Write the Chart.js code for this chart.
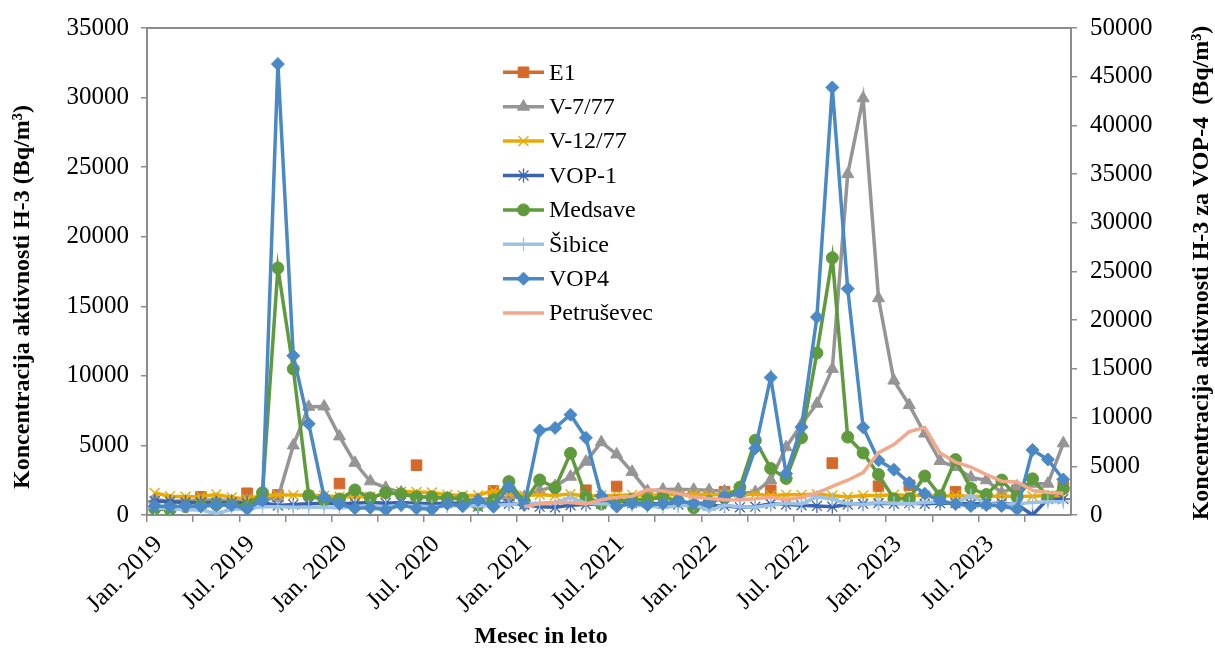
<!DOCTYPE html>
<html>
<head>
<meta charset="utf-8">
<script src="https://cdn.jsdelivr.net/npm/chart.js"></script>
<style>
  body { margin: 0; background: #fff; }
  canvas { display: block; }
</style>
</head>
<body>
<canvas id="h3_chart" width="1215" height="650"></canvas>
<script>
// months Jan. 2019 .. Dec. 2023
monthNames = ['Jan.', 'Feb.', 'Mar.', 'Apr.', 'Maj', 'Jun.', 'Jul.', 'Avg.', 'Sep.', 'Okt.', 'Nov.', 'Dec.']
years = [2019, 2020, 2021, 2022, 2023]
labels = years.flatMap(y => monthNames.map(m => m + ' ' + y))

leftTicks = [0, 5000, 10000, 15000, 20000, 25000, 30000, 35000]
rightTicks = [0, 5000, 10000, 15000, 20000, 25000, 30000, 35000, 40000, 45000, 50000]

e1 = [null, null, null, 1310, null, null, 1560, null, 1440, null, null, null,
      2260, null, null, null, null, 3580, null, null, null, null, 1730, null,
      null, null, null, null, 1780, null, 2050, null, null, null, null, null,
      null, 1660, null, null, 1780, null, null, null, 3730, null, null, 2070,
      null, 2140, null, null, 1660, null, null, null, 1780, null, null, 2020]

v777 = [1100, 1000, 1000, 1050, 1100, 1000, 1050, 1150, 1200, 5000, 7780, 7800,
        5650, 3750, 2420, 1950, 1620, 1350, 1250, 1200, 1150, 1100, 1200, 1250,
        1300, 1750, 2080, 2750, 3830, 5230, 4350, 3100, 1720, 1830, 1850, 1820,
        1780, 1700, 1550, 1650, 2520, 4870, 6520, 8000, 10500, 24500, 29950, 15580,
        9660, 7900, 5850, 3880, 3450, 2700, 2500, 1600, 2050, 2250, 2250, 5150]

v1277 = [1580, 1350, 1310, 1330, 1470, 1260, 1150, 1420, 1430, 1430, 1420, 1380,
         1310, 1320, 1300, 1500, 1680, 1650, 1620, 1450, 1400, 1420, 1750, 1500,
         1400, 1450, 1400, 1500, 1350, 1400, 1400, 1450, 1400, 1450, 1450, 1500,
         1450, 1450, 1450, 1500, 1400, 1450, 1450, 1500, 1400, 1300, 1400, 1400,
         1450, 1400, 1400, 1350, 1400, 1350, 1350, 1350, 1350, 1350, 1400, 1400]

vop1 = [1000, 950, 900, 900, 880, 900, 850, 880, 680, 750, 800, 850,
        800, 850, 900, 850, 900, 850, 800, 850, 850, 600, 850, 800,
        750, 600, 550, 700, 750, 800, 800, 850, 850, 800, 750, 700,
        700, 650, 550, 600, 800, 750, 700, 650, 600, 750, 800, 850,
        800, 850, 800, 850, 850, 800, 800, 850, 750, 0, 1150, 1150]

medsave = [450, 380, 600, 650, 740, 720, 620, 1600, 17750, 10500, 1400, 1080,
           1150, 1800, 1230, 1600, 1510, 1300, 1300, 1220, 1200, 720, 1050, 2400,
           950, 2520, 1950, 4430, 1320, 800, 1000, 1120, 1120, 1300, 1000, 520,
           950, 1250, 2000, 5370, 3350, 2630, 5550, 11640, 18480, 5600, 4460, 2910,
           1160, 1170, 2800, 1380, 3980, 1910, 1470, 2510, 1300, 2600, 1300, 1900]

sibice = [500, 450, 400, 350, 120, 400, 450, 600, 600, 550, 550, 550,
          500, 600, 650, 600, 700, 650, 600, 650, 700, 650, 700, 750,
          800, 850, 900, 1250, 850, 800, 750, 700, 650, 550, 650, 750,
          330, 700, 600, 550, 700, 850, 800, 1300, 1150, 800, 750, 900,
          850, 800, 900, 950, 850, 1400, 800, 750, 800, 900, 950, 950]

// VOP4 is read on the right axis
vop4 = [920, 860, 920, 900, 1000, 1030, 620, 1500, 46300, 16350, 9370, 1850,
        1130, 700, 750, 550, 1020, 680, 580, 1150, 900, 1540, 850, 2870,
        1050, 8680, 8940, 10300, 7920, 1960, 860, 1200, 1030, 1160, 1460, 1190,
        1260, 1840, 2250, 6840, 14120, 4240, 9020, 20320, 43900, 23240, 9000, 5610,
        4650, 3300, 2190, 1460, 1120, 920, 1020, 920, 600, 6680, 5700, 3650]

petrusevec = [null, null, null, null, null, null, null, null, null, null, null, null,
              null, null, null, null, null, null, null, null, null, null, null, null,
              600, 800, 900, 900, 800, 1100, 1280, 1350, 1830, 1730, 1540, 1300,
              1190, 1100, 1080, 1160, 1280, 1100, 1250, 1580, 2050, 2500, 3050, 4480,
              5060, 5990, 6290, 4450, 3800, 3440, 2910, 2430, 2370, 1780, 1620, 1560]

seriesNames = ['E1', 'V-7/77', 'V-12/77', 'VOP-1', 'Medsave', 'Šibice', 'VOP4', 'Petruševec']
seriesData = [e1, v777, v1277, vop1, medsave, sibice, vop4, petrusevec]
seriesColors = ['#D36A2B', '#959595', '#E9AA05', '#3C63AE', '#5F9A3C', '#9CC2E8', '#4A89C5', '#F2A98B']
seriesMarkers = ['rect', 'triangle', 'crossRot', 'star', 'circle', 'cross', 'rectRot', 'circle']
markerSizes = [7.5, 7, 7, 7, 6, 7, 6.5, 0]
markerBorders = [1, 1, 1.4, 1.3, 1, 1.3, 1, 1]

leftTitle = 'Koncentracija aktivnosti H-3 (Bq/m³)'
rightTitle = 'Koncentracija aktivnosti H-3 za VOP-4  (Bq/m³)'
xTitle = 'Mesec in leto'

serif = '"Liberation Serif", "Times New Roman", serif'
axisGrey = '#8c8c8c'

data = seriesNames.map((name, i) => ({
    label: name,
    data: seriesData[i],
    yAxisID: name === 'VOP4' ? 'y1' : 'y',
    borderColor: seriesColors[i],
    backgroundColor: seriesColors[i],
    pointBackgroundColor: seriesColors[i],
    pointBorderColor: seriesColors[i],
    pointStyle: seriesMarkers[i],
    pointRadius: markerSizes[i],
    pointBorderWidth: markerBorders[i],
    borderWidth: 3.5,
    tension: 0,
    spanGaps: false,
    order: seriesNames.length - 1 - i,
}))

// legend drawn inside the plot area
legendInPlot = {
    id: 'legendInPlot',
    afterDatasetsDraw(chart) {
        const {ctx, chartArea} = chart
        const x0 = chartArea.left + 356, len = 41, rowH = 34.4, y0 = chartArea.top + 44.3
        chart.data.datasets.forEach((ds, i) => {
            const y = y0 + i * rowH
            ctx.save()
            ctx.strokeStyle = ds.borderColor
            ctx.lineWidth = 3.5
            ctx.beginPath()
            ctx.moveTo(x0, y)
            ctx.lineTo(x0 + len, y)
            ctx.stroke()
            if (ds.pointRadius > 0) {
                ctx.fillStyle = ds.pointBackgroundColor
                ctx.strokeStyle = ds.pointBorderColor
                ctx.lineWidth = ds.pointBorderWidth
                Chart.helpers.drawPoint(ctx, {
                    pointStyle: ds.pointStyle, radius: ds.pointRadius,
                    rotation: 0, borderWidth: ds.pointBorderWidth
                }, x0 + len / 2, y)
            }
            ctx.fillStyle = '#000'
            ctx.font = '24px ' + serif
            ctx.textBaseline = 'middle'
            ctx.textAlign = 'left'
            ctx.fillText(ds.label, x0 + len + 5, y + 1)
            ctx.restore()
        })
    }
}

// top frame line and the three axis titles
frameAndTitles = {
    id: 'frameAndTitles',
    afterDraw(chart) {
        const {ctx, chartArea} = chart
        ctx.save()
        ctx.strokeStyle = axisGrey
        ctx.lineWidth = 2
        ctx.beginPath()
        ctx.moveTo(chartArea.left, chartArea.top)
        ctx.lineTo(chartArea.right, chartArea.top)
        ctx.stroke()

        ctx.fillStyle = '#000'
        ctx.font = 'bold 24px ' + serif
        ctx.textAlign = 'center'
        ctx.textBaseline = 'middle'
        ctx.fillText(xTitle, 541, 637)

        ctx.translate(23, 297)
        ctx.rotate(-Math.PI / 2)
        ctx.fillText(leftTitle, 0, 0)
        ctx.restore()

        ctx.save()
        ctx.fillStyle = '#000'
        ctx.font = 'bold 24px ' + serif
        ctx.textAlign = 'center'
        ctx.textBaseline = 'middle'
        ctx.translate(1202, 273)
        ctx.rotate(-Math.PI / 2)
        ctx.fillText(rightTitle, 0, 0)
        ctx.restore()
    }
}

tickFont = {family: serif, size: 25}

config = {
    type: 'line',
    data: {
        labels,
        datasets: data
    },
    options: {
        responsive: false,
        animation: false,
        layout: {padding: {top: 24, left: 0, right: 0, bottom: 0}},
        plugins: {
            legend: {display: false},
            tooltip: {enabled: false},
        },
        scales: {
            x: {
                offset: true,
                grid: {
                    offset: true,
                    drawOnChartArea: false,
                    tickLength: 7,
                    lineWidth: 1.5,
                    color: c => (c.index % 3 === 0 ? axisGrey : 'rgba(0,0,0,0)'),
                },
                border: {color: axisGrey, width: 2},
                ticks: {
                    autoSkip: false,
                    minRotation: 45,
                    maxRotation: 45,
                    padding: 8,
                    labelOffset: 4,
                    color: '#000',
                    font: tickFont,
                    callback: (v, i) => (i % 6 === 0 ? labels[i] : ''),
                },
                afterFit: s => { s.height = 135 },
            },
            y: {
                position: 'left',
                min: leftTicks[0],
                max: leftTicks[leftTicks.length - 1],
                afterBuildTicks: s => { s.ticks = leftTicks.map(v => ({value: v})) },
                grid: {drawOnChartArea: false, tickLength: 6, color: axisGrey, lineWidth: 1.5},
                border: {color: axisGrey, width: 2},
                ticks: {padding: 12, color: '#000', font: tickFont, callback: v => String(v)},
                afterFit: s => { s.width = 147 },
            },
            y1: {
                position: 'right',
                min: rightTicks[0],
                max: rightTicks[rightTicks.length - 1],
                afterBuildTicks: s => { s.ticks = rightTicks.map(v => ({value: v})) },
                grid: {drawOnChartArea: false, tickLength: 6, color: axisGrey, lineWidth: 1.5},
                border: {color: axisGrey, width: 2},
                ticks: {padding: 13, color: '#000', font: tickFont, callback: v => String(v)},
                afterFit: s => { s.width = 144 },
            },
        },
    },
    plugins: [legendInPlot, frameAndTitles],
}

Chart.defaults.font.family = serif
ctx = document.getElementById('h3_chart')
new Chart(ctx, config)
</script>
</body>
</html>
